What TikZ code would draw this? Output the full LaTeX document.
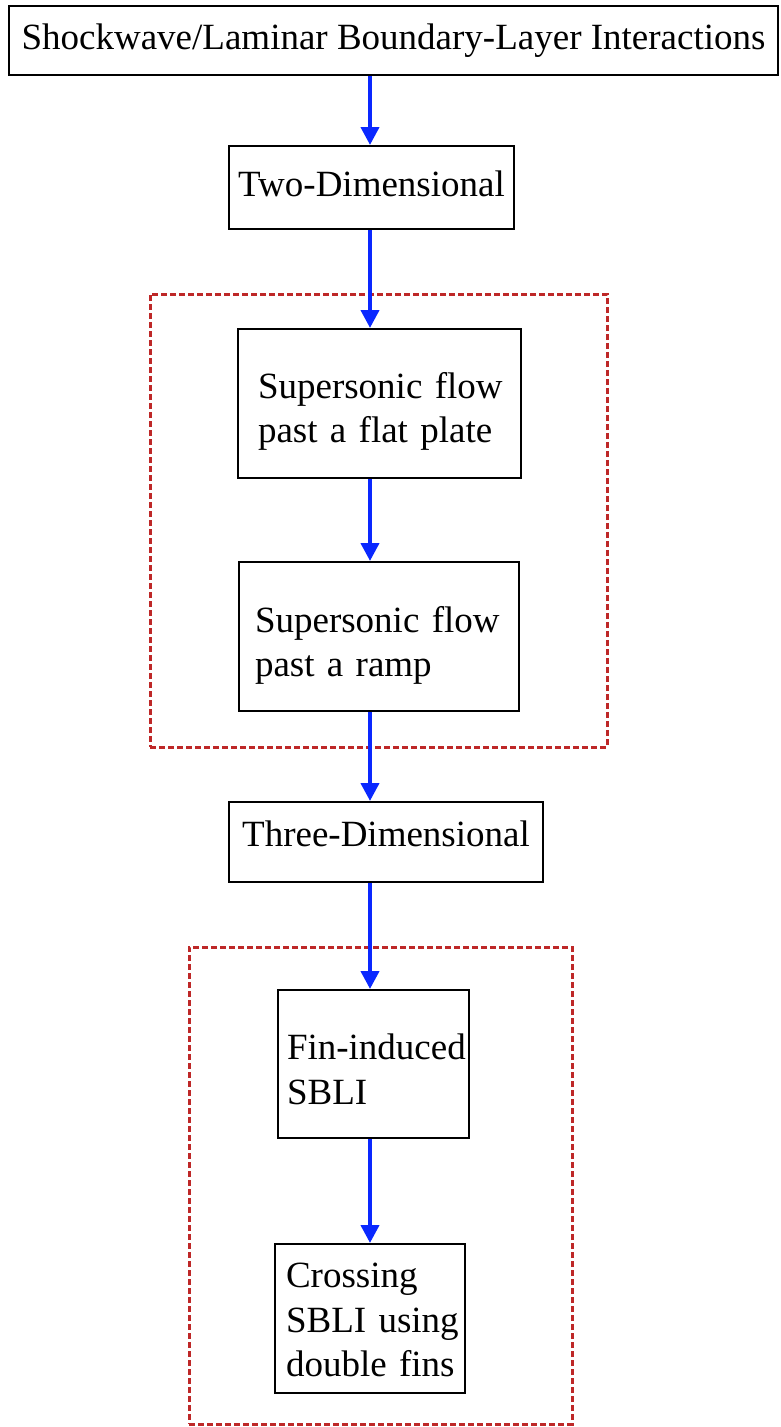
\documentclass[tikz,border=0pt]{standalone}
\usepackage{fontspec}
\setmainfont{Liberation Serif}
\usetikzlibrary{arrows.meta}
\definecolor{flowblue}{RGB}{10,40,255}
\definecolor{groupred}{RGB}{190,40,40}
\newcommand{\lift}[1]{\rule{0pt}{#1}}
\tikzset{
  box/.style={draw=black, line width=2pt, fill=white, inner sep=0pt,
    font=\fontsize{37}{44.5}\selectfont},
  leftbox/.style={box, align=left},
  flow/.style={draw=flowblue, line width=4pt, -{Triangle[width=18pt,length=18pt]}},
  group/.style={draw=groupred, line width=3pt, dash pattern=on 6pt off 3pt,
    inner sep=0pt},
}
\begin{document}
\begin{tikzpicture}[x=1pt,y=-1pt]
\useasboundingbox (0,0) rectangle (780,1427);

% dashed groupings
\node[group, minimum width=457pt, minimum height=453pt] (grp2d) at (378.5,520.5) {};
\node[group, minimum width=383pt, minimum height=477pt] (grp3d) at (380.5,1185.5) {};

% boxes
\node[box, minimum width=769pt, minimum height=69pt] (top) at (393.5,40.5)
  {Shockwave/Laminar Boundary-Layer Interactions};
\node[box, minimum width=285pt, minimum height=83pt, text depth=8pt] (two) at (371.5,187.5)
  {Two-Dimensional};
\node[leftbox, inner xsep=20pt, text width=243pt, minimum height=149pt] (flat) at (379.5,403.5)
  {\mbox{\lift{42pt}Supersonic flow}\\\mbox{past a flat plate}};
\node[leftbox, inner xsep=16pt, text width=248pt, minimum height=149pt] (ramp) at (379,636.5)
  {\mbox{\lift{44pt}Supersonic flow}\\\mbox{past a ramp}};
\node[box, minimum width=314pt, minimum height=80pt, text depth=16pt] (three) at (386,842)
  {Three-Dimensional};
\node[leftbox, inner xsep=9pt, text width=173pt, minimum height=148pt] (fin) at (373.5,1064)
  {\mbox{\lift{36pt}Fin-induced}\\\mbox{SBLI}};
\node[leftbox, inner xsep=11pt, text width=168pt, minimum height=149pt] (cross) at (370,1318.5)
  {\mbox{\lift{28pt}Crossing}\\\mbox{SBLI using}\\\mbox{double fins}};

% flow arrows along the common axis
\coordinate (axis) at (370,0);
\draw[flow] (top.south -| axis) -- (two.north -| axis);
\draw[flow] (two.south -| axis) -- (flat.north -| axis);
\draw[flow] (flat.south -| axis) -- (ramp.north -| axis);
\draw[flow] (ramp.south -| axis) -- (three.north -| axis);
\draw[flow] (three.south -| axis) -- (fin.north -| axis);
\draw[flow] (fin.south -| axis) -- (cross.north -| axis);
\end{tikzpicture}
\end{document}
